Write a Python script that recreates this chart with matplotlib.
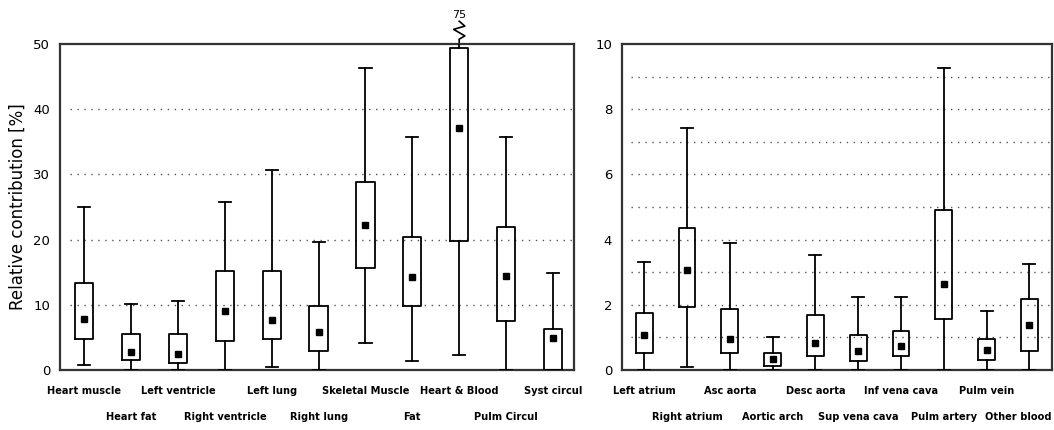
import numpy as np
import matplotlib
matplotlib.use("Agg")
import matplotlib.pyplot as plt

# left panel: organs
left_names = ["Heart muscle", "Heart fat", "Left ventricle", "Right ventricle",
              "Left lung", "Right lung", "Skeletal Muscle", "Fat",
              "Heart & Blood", "Pulm Circul", "Syst circul"]
left_whislo = [0.8, 0.0, 0.0, 0.0, 0.4, 0.0, 4.2, 1.4, 2.3, 0.0, 0.0]
left_q1 = [4.8, 1.6, 1.0, 4.4, 4.8, 2.9, 15.6, 9.8, 19.8, 7.5, 0.0]
left_med = [7.9, 2.8, 2.5, 9.0, 7.7, 5.8, 22.3, 14.2, 37.1, 14.4, 4.9]
left_q3 = [13.4, 5.5, 5.5, 15.2, 15.2, 9.8, 28.8, 20.4, 49.4, 22.0, 6.3]
left_whishi = [25.0, 10.2, 10.6, 25.7, 30.7, 19.6, 46.3, 35.8, 75.0, 35.8, 14.9]

# right panel: blood compartments
right_names = ["Left atrium", "Right atrium", "Asc aorta", "Aortic arch",
               "Desc aorta", "Sup vena cava", "Inf vena cava", "Pulm artery",
               "Pulm vein", "Other blood"]
right_whislo = [0.0, 0.08, 0.0, 0.0, 0.0, 0.0, 0.0, 0.0, 0.0, 0.0]
right_q1 = [0.51, 1.93, 0.51, 0.13, 0.44, 0.27, 0.44, 1.55, 0.32, 0.57]
right_med = [1.08, 3.06, 0.95, 0.34, 0.83, 0.57, 0.73, 2.65, 0.62, 1.39]
right_q3 = [1.76, 4.35, 1.88, 0.52, 1.69, 1.08, 1.21, 4.91, 0.96, 2.19]
right_whishi = [3.3, 7.43, 3.91, 1.0, 3.54, 2.24, 2.24, 9.25, 1.81, 3.24]

fig = plt.figure(figsize=(10.54, 4.30), dpi=100)
ax1 = fig.add_axes([0.0569, 0.1395, 0.4877, 0.7581])
ax2 = fig.add_axes([0.5901, 0.1395, 0.4080, 0.7581])


def draw(ax, names, lo, q1, med, q3, hi, ymax, grid_vals, tick_vals, xmax, capw):
    stats = []
    for i in range(len(names)):
        stats.append({"whislo": lo[i], "q1": q1[i], "med": med[i],
                      "q3": q3[i], "whishi": hi[i], "fliers": []})
    pos = np.arange(1, len(names) + 1)
    lp = dict(color="black", linewidth=1.3)
    ax.bxp(stats, positions=pos, widths=0.39, capwidths=capw,
           showfliers=False, boxprops=lp, whiskerprops=lp, capprops=lp,
           medianprops=dict(visible=False), zorder=3)
    ax.plot(pos, med, "s", color="black", markersize=4.5, zorder=4)
    ax.set_xlim(0.48, xmax)
    ax.set_ylim(0, ymax)
    for g in grid_vals:
        ax.axhline(g, xmin=0.02, color="#555555", linewidth=1,
                   linestyle=(0, (1, 4)), zorder=1)
    ax.set_yticks(tick_vals)
    ax.set_xticks([])
    ax.tick_params(axis="y", length=0, pad=7, labelsize=9.5)
    for s in ax.spines.values():
        s.set_linewidth(1.6)
        s.set_color("#333333")
    for i, n in enumerate(names):
        yy = -0.05 if i % 2 == 0 else -0.13
        ax.text(pos[i], yy, n, transform=ax.get_xaxis_transform(),
                ha="center", va="top", fontsize=7.1, fontweight="bold")
    return pos


draw(ax1, left_names, left_whislo, left_q1, left_med, left_q3, left_whishi,
     50, [10, 20, 30, 40], [0, 10, 20, 30, 40, 50], 11.45, 0.26)
draw(ax2, right_names, right_whislo, right_q1, right_med, right_q3, right_whishi,
     10, range(1, 10), [0, 2, 4, 6, 8, 10], 10.53, 0.28)

# last label on the right sits flush with the panel edge, as in the original
last = ax2.texts[-1]
last.set_x(1.0)
last.set_transform(ax2.transAxes)
last.set_y(-0.13)
last.set_horizontalalignment("right")

ax1.set_ylabel("Relative contribution [%]", fontsize=12, labelpad=5)

# broken whisker for Heart & Blood, max value written above
trans = ax1.get_xaxis_transform()
hb = left_names.index("Heart & Blood") + 1
ax1.plot([hb, hb, hb + 0.12, hb - 0.12, hb + 0.12, hb],
         [1.0, 1.015, 1.025, 1.045, 1.055, 1.07],
         color="black", linewidth=1.2, transform=trans, clip_on=False)
ax1.text(hb, 1.075, "%d" % left_whishi[hb - 1], transform=trans,
         ha="center", va="bottom", fontsize=8)

fig.savefig("out.png", dpi=100)
